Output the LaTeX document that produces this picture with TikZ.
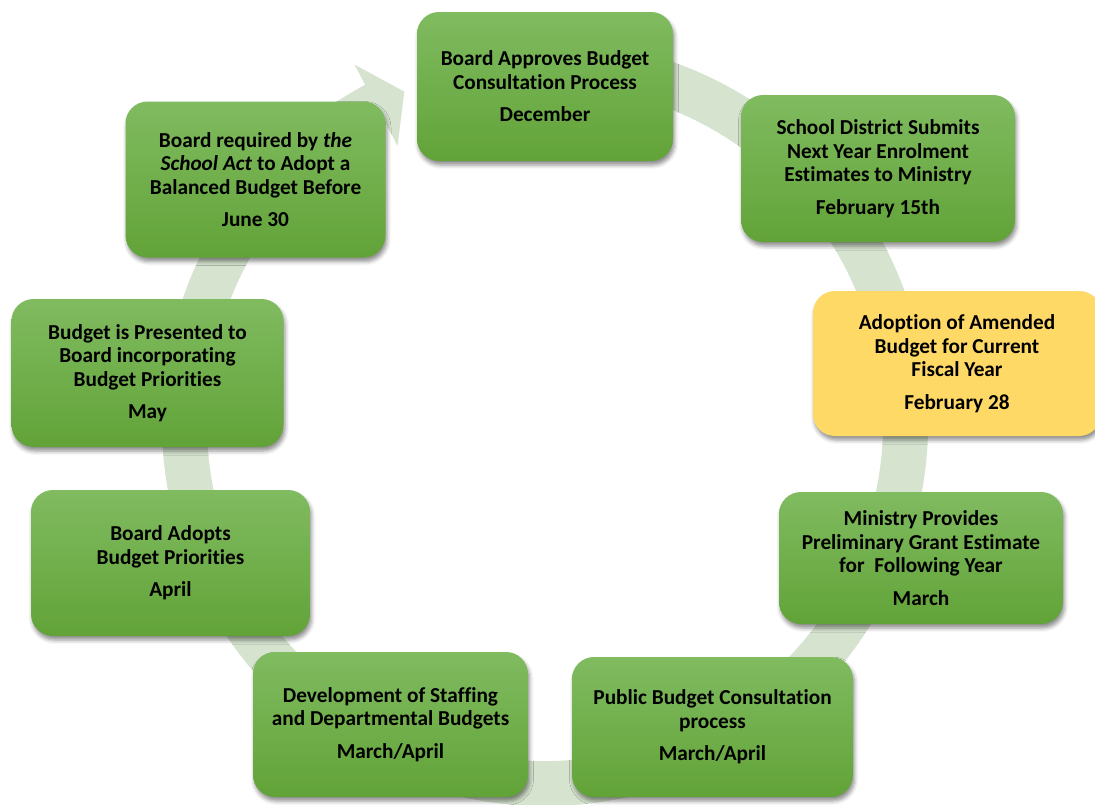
\documentclass[tikz,border=0pt]{standalone}
\usepackage{fontspec}
\setmainfont{Carlito}[Ligatures={NoCommon}]
\usetikzlibrary{shadows.blur}
\definecolor{ringgreen}{RGB}{213,227,207}
\definecolor{boxtop}{RGB}{128,187,96}
\definecolor{boxbot}{RGB}{98,163,56}
\definecolor{gold}{RGB}{255,217,102}
\newcommand\stagefont{\fontsize{21.3}{23.5}\selectfont\bfseries}
\tikzset{
  basebox/.style={rounded corners=22pt, inner sep=0pt, align=center,
    font=\stagefont, text=black,
    blur shadow={shadow xshift=1.5pt, shadow yshift=-4pt,
      shadow blur radius=4pt, shadow opacity=45}},
  stage/.style={basebox, top color=boxtop, bottom color=boxbot},
  goldstage/.style={basebox, fill=gold},
  cyclering/.style={fill=ringgreen}
}
\begin{document}
\begin{tikzpicture}[x=1pt,y=-1pt]
\useasboundingbox (0,0) rectangle (1095,804);

% circular arrow running clockwise behind the stages
\begin{scope}[shift={(545,423)}, y=1pt]
  \fill[cyclering] (109:383) arc[start angle=109, end angle=-242, radius=383]
    -- (-242:406) -- (-247:360) -- (-242:314) -- (-242:338)
    arc[start angle=-242, end angle=109, radius=338] -- cycle;
\end{scope}

\node[stage, minimum width=256pt, minimum height=149pt] (dec) at (545,86.5)
  {Board Approves Budget\\Consultation Process\\[9pt]December};
\node[stage, minimum width=274pt, minimum height=147pt] (feb15) at (878,168.5)
  {School District Submits\\Next Year Enrolment\\Estimates to Ministry\\[9pt]February 15th};
\node[goldstage, minimum width=288pt, minimum height=145pt] (feb28) at (957,363.5)
  {Adoption of Amended\\Budget for Current\\Fiscal Year\\[9pt]February 28};
\node[stage, minimum width=284pt, minimum height=132pt] (mar) at (921,558)
  {Ministry Provides\\Preliminary Grant Estimate\\for\ \ Following Year\\[9pt]March};
\node[stage, minimum width=281pt, minimum height=140pt] (pub) at (712.5,727)
  {Public Budget Consultation\\process\\[9pt]March/April};
\node[stage, minimum width=275pt, minimum height=145pt] (dev) at (390.5,724.5)
  {Development of Staffing\\and Departmental Budgets\\[9pt]March/April};
\node[stage, minimum width=279pt, minimum height=146pt] (apr) at (170.5,563)
  {Board Adopts\\Budget Priorities\\[9pt]April};
\node[stage, minimum width=272pt, minimum height=148pt] (may) at (147.5,373)
  {Budget is Presented to\\Board incorporating\\Budget Priorities\\[9pt]May};
\node[stage, minimum width=260pt, minimum height=156pt] (jun) at (255.5,179.5)
  {Board required by \textit{the}\\\textit{School Act} to Adopt a\\Balanced Budget Before\\[9pt]June 30};
\end{tikzpicture}
\end{document}
